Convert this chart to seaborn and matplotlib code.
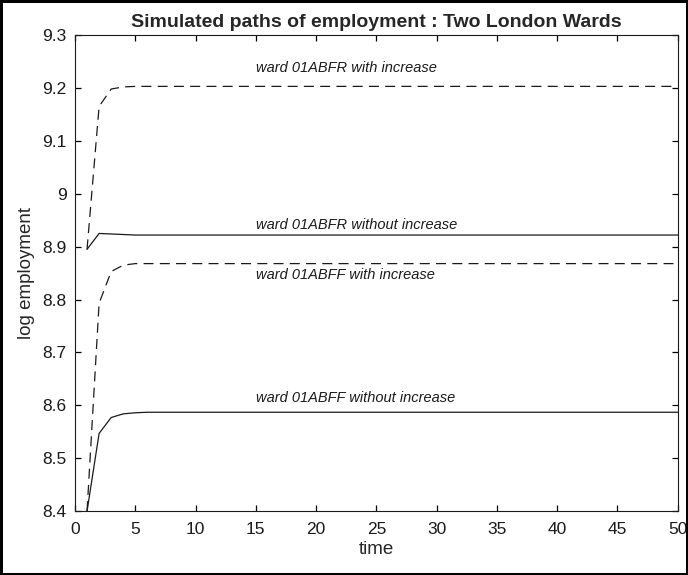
import pandas as pd
import matplotlib
matplotlib.use('Agg')
import matplotlib.pyplot as plt
import seaborn as sns

sns.set_style('ticks', {'xtick.direction': 'in', 'ytick.direction': 'in',
                        'xtick.top': True, 'ytick.right': True,
                        'xtick.bottom': True, 'ytick.left': True})
plt.rcParams['font.family'] = ['Liberation Sans', 'DejaVu Sans']

# time points (values flat after t~6)
time = [1, 2, 3, 4, 5, 6, 8, 10, 15, 20, 25, 30, 35, 40, 45, 50]

abfr_increase = [8.895, 9.165, 9.198, 9.202, 9.203, 9.203, 9.203, 9.203,
                 9.203, 9.203, 9.203, 9.203, 9.203, 9.203, 9.203, 9.203]
abfr_no_increase = [8.895, 8.925, 8.924, 8.923, 8.922, 8.922, 8.922, 8.922,
                    8.922, 8.922, 8.922, 8.922, 8.922, 8.922, 8.922, 8.922]
abff_increase = [8.400, 8.793, 8.853, 8.865, 8.868, 8.868, 8.868, 8.868,
                 8.868, 8.868, 8.868, 8.868, 8.868, 8.868, 8.868, 8.868]
abff_no_increase = [8.400, 8.547, 8.577, 8.584, 8.586, 8.587, 8.587, 8.587,
                    8.587, 8.587, 8.587, 8.587, 8.587, 8.587, 8.587, 8.587]

labels = ['ward 01ABFR with increase', 'ward 01ABFR without increase',
          'ward 01ABFF with increase', 'ward 01ABFF without increase']
label_y = [9.238, 8.941, 8.846, 8.614]
label_x = 15

series = [abfr_increase, abfr_no_increase, abff_increase, abff_no_increase]
styles = [(0, (8, 5)), '-', (0, (8, 5)), '-']

fig = plt.figure(figsize=(6.88, 5.75), dpi=100)
fig.patch.set_edgecolor('black')
fig.patch.set_linewidth(2.5)
ax = fig.add_axes([0.109, 0.111, 0.876, 0.828])

for vals, ls in zip(series, styles):
    sns.lineplot(x=time, y=vals, ax=ax, color='#1a1a1a', linewidth=0.9,
                 linestyle=ls)

for lab, ly in zip(labels, label_y):
    ax.text(label_x, ly, lab, fontsize=10.5, style='italic', va='center',
            ha='left', color='#1a1a1a')

ax.set_xlim(0, 50)
ax.set_ylim(8.4, 9.3)
ax.set_xticks(range(0, 51, 5))
ax.set_yticks([8.4, 8.5, 8.6, 8.7, 8.8, 8.9, 9.0, 9.1, 9.2, 9.3])
ax.set_yticklabels(['8.4', '8.5', '8.6', '8.7', '8.8', '8.9', '9', '9.1', '9.2', '9.3'])
ax.tick_params(axis='both', which='major', direction='in', length=4.5,
               width=0.9, labelsize=12.5, color='black', labelcolor='#1a1a1a',
               bottom=True, top=True, left=True, right=True)
ax.tick_params(axis='y', pad=6)
ax.tick_params(axis='x', pad=8)
for sp in ax.spines.values():
    sp.set_visible(True)
    sp.set_color('#1a1a1a')
    sp.set_linewidth(0.8)

ax.set_xlabel('time', fontsize=13.5, labelpad=3)
ax.set_ylabel('log employment', fontsize=13.5, labelpad=5)
ax.set_title('Simulated paths of employment : Two London Wards',
             fontsize=14, fontweight='bold', pad=6)

fig.savefig('out.png', dpi=100, edgecolor=fig.get_edgecolor())
